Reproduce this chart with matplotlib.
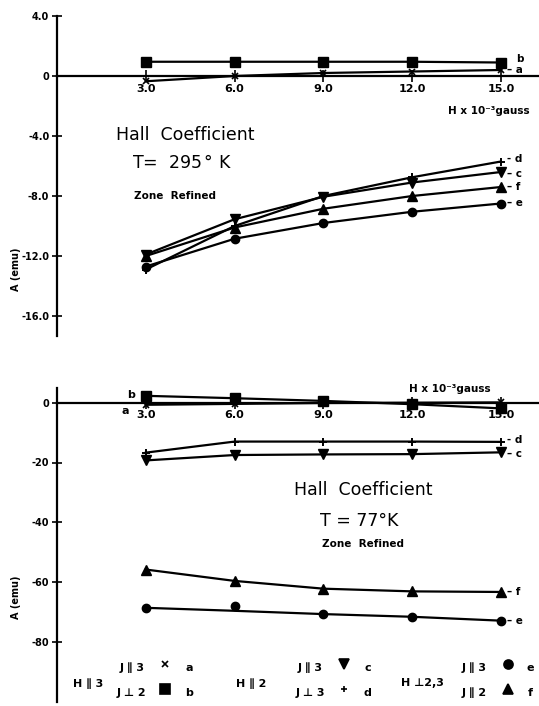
import matplotlib
matplotlib.use("Agg")
import matplotlib.pyplot as plt

# field H x 10^-3 gauss
H = [3.0, 6.0, 9.0, 12.0, 15.0]

# T = 295 K
a_295 = [-0.35, 0.0, 0.2, 0.3, 0.4]
b_295 = [0.95, 0.95, 0.95, 0.95, 0.9]
c_295 = [-11.9, -9.55, -8.05, -7.1, -6.4]
d_295 = [-12.9, -10.0, -8.0, -6.75, -5.7]
e_295 = [-12.7, -10.85, -9.8, -9.05, -8.5]
f_295 = [-12.0, -10.1, -8.85, -8.0, -7.4]

# T = 77 K
a_77 = [-0.7, -0.4, -0.1, 0.0, 0.1]
b_77 = [2.3, 1.5, 0.6, -0.5, -1.9]
c_77 = [-19.3, -17.5, -17.3, -17.2, -16.6]
d_77 = [-16.7, -13.0, -13.0, -13.0, -13.1]
e_77 = [-68.6, -68.0, -70.7, -71.6, -73.0]
e_77_curve = [-68.6, -69.6, -70.7, -71.6, -72.9]
f_77 = [-55.8, -59.6, -62.2, -63.1, -63.3]

xticks = [3.0, 6.0, 9.0, 12.0, 15.0]
yticks_295 = [4.0, 0.0, -4.0, -8.0, -12.0, -16.0]
ylabels_295 = ["4.0", "0", "-4.0", "-8.0", "-12.0", "-16.0"]
yticks_77 = [0, -20, -40, -60, -80]
ylabels_77 = ["0", "-20", "-40", "-60", "-80"]

lw = 1.6
mk = dict(color="black", lw=lw)

fig = plt.figure(figsize=(5.39, 7.06), dpi=100)
W, Hpx = 539.0, 706.0
x0 = 57.0
pxu = 29.6
xmax = (W - x0) / pxu

# top axes: 4.0 at y=16px, 15 px per unit
top_px, bot_px = 16.0, 16.0 + 21.3 * 15.0
ax1 = fig.add_axes([x0 / W, (Hpx - bot_px) / Hpx, 1 - x0 / W, (bot_px - top_px) / Hpx])
ax1.set_ylim(-17.3, 4.0)
# bottom axes: 0 at 402.7px, 2.99 px per unit
top2 = 402.7 - 4.8 * 2.99
bot2 = 402.7 + 100.2 * 2.99
ax2 = fig.add_axes([x0 / W, (Hpx - bot2) / Hpx, 1 - x0 / W, (bot2 - top2) / Hpx])
ax2.set_ylim(-100.2, 4.8)

for ax in (ax1, ax2):
    ax.set_xlim(0, xmax)
    ax.spines["top"].set_visible(False)
    ax.spines["right"].set_visible(False)
    ax.spines["bottom"].set_position(("data", 0))
    ax.spines["left"].set_linewidth(lw)
    ax.spines["bottom"].set_linewidth(lw)
    ax.set_xticks(xticks)
    ax.set_xticklabels(["%.1f" % v for v in xticks])
    ax.tick_params(axis="x", direction="inout", length=9, width=1.2, pad=1,
                   labelsize=8)
    ax.tick_params(axis="y", direction="inout", length=7, width=1.2, pad=2,
                   labelsize=7)
    ax.patch.set_visible(False)
    for lab in ax.get_xticklabels():
        lab.set_fontweight("bold")

ax1.set_yticks(yticks_295)
ax1.set_yticklabels(ylabels_295, fontweight="bold")
ax2.set_yticks(yticks_77)
ax2.set_yticklabels(ylabels_77, fontweight="bold")

# ---- 295 K ----
ax1.plot(H, b_295, marker="s", ms=7, **mk)
ax1.plot(H, a_295, marker="x", ms=4, mew=1.2, **mk)
ax1.plot(H, c_295, marker="v", ms=7, **mk)
ax1.plot(H, d_295, marker="+", ms=6, mew=1.4, **mk)
ax1.plot(H, e_295, marker="o", ms=6, **mk)
ax1.plot(H, f_295, marker="^", ms=7, **mk)

lbl = dict(fontsize=7.5, fontweight="bold", va="center", ha="left")
ax1.text(15.5, b_295[-1] + 0.25, "b", **lbl)
ax1.text(15.2, a_295[-1], "– a", **lbl)
ax1.text(15.2, d_295[-1] + 0.15, "- d", **lbl)
ax1.text(15.2, c_295[-1] - 0.15, "– c", **lbl)
ax1.text(15.2, f_295[-1], "– f", **lbl)
ax1.text(15.2, e_295[-1], "– e", **lbl)

ax1.text(2.0, -3.9, "Hall  Coefficient", fontsize=12.5, va="center")
ax1.text(2.55, -5.8, "T=  295$\\,$° K", fontsize=12.5, va="center")
ax1.text(2.6, -8.0, "Zone  Refined", fontsize=7.5, fontweight="bold", va="center")
ax1.text(13.2, -2.3, "H x 10⁻³gauss", fontsize=7.5, fontweight="bold", va="center")
ax1.text(-1.4, -12.9, "A (emu)", rotation=90, fontsize=7, fontweight="bold",
         ha="center", va="center", clip_on=False)

# ---- 77 K ----
ax2.plot(H, b_77, marker="s", ms=7, **mk)
ax2.plot(H, a_77, marker="x", ms=4, mew=1.2, **mk)
ax2.plot(H, c_77, marker="v", ms=7, **mk)
ax2.plot(H, d_77, marker="+", ms=6, mew=1.4, **mk)
ax2.plot(H, e_77_curve, **mk)
ax2.plot(H, e_77, marker="o", ms=6, ls="none", color="black")
ax2.plot(H, f_77, marker="^", ms=7, **mk)

ax2.text(2.5, 2.6, "b", ha="center", va="center", fontsize=8, fontweight="bold")
ax2.text(2.3, -2.8, "a", ha="center", va="center", fontsize=8, fontweight="bold")
ax2.text(15.2, d_77[-1] + 0.5, "- d", **lbl)
ax2.text(15.2, c_77[-1] - 0.5, "– c", **lbl)
ax2.text(15.2, f_77[-1], "– f", **lbl)
ax2.text(15.2, e_77[-1], "– e", **lbl)

ax2.text(11.9, 4.7, "H x 10⁻³gauss", fontsize=7.5, fontweight="bold", va="center")
ax2.text(8.0, -29.3, "Hall  Coefficient", fontsize=12.5, va="center")
ax2.text(8.9, -39.6, "T = 77°K", fontsize=12.5, va="center")
ax2.text(8.95, -47.3, "Zone  Refined", fontsize=7.5, fontweight="bold", va="center")
ax2.text(-1.4, -65, "A (emu)", rotation=90, fontsize=7, fontweight="bold",
         ha="center", va="center", clip_on=False)

# key at the bottom
row1, row2, mid = -88.7, -97.1, -93.8
key = dict(fontsize=8, fontweight="bold", ha="center", va="center")
ax2.text(1.05, mid, "H ∥ 3", **key)
ax2.text(6.55, mid, "H ∥ 2", **key)
ax2.text(12.33, mid, "H ⊥2,3", **key)
groups = [
    (2.53, 3.65, 4.46, ["J ∥ 3", "J ⊥ 2"], ["x", "s"], ["a", "b"]),
    (8.55, 9.7, 10.5, ["J ∥ 3", "J ⊥ 3"], ["v", "+"], ["c", "d"]),
    (14.1, 15.24, 16.0, ["J ∥ 3", "J ∥ 2"], ["o", "^"], ["e", "f"]),
]
for xt, xm, xl, texts, marks, letters in groups:
    for yy, t, m, l in zip([row1, row2], texts, marks, letters):
        ax2.text(xt, yy, t, **key)
        ms = 4 if m in ("x", "+") else 6.5
        ax2.plot([xm], [yy + 1.2], marker=m, ms=ms, mew=1.2, color="black",
                 ls="none", clip_on=False)
        ax2.text(xl, yy, l, **key)

fig.savefig("out.png", dpi=100)
